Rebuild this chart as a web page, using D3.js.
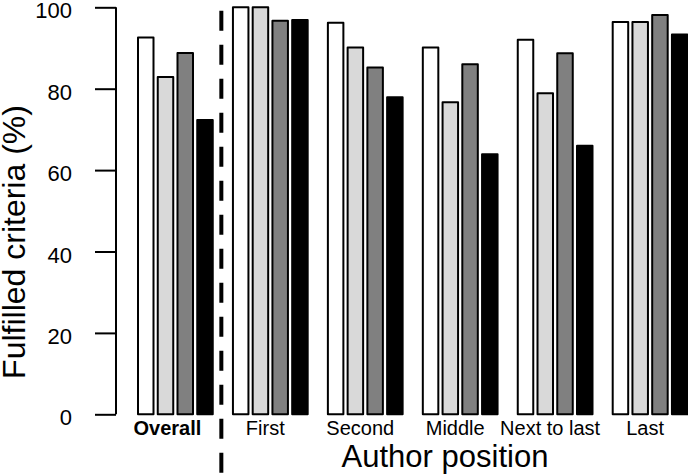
<!DOCTYPE html>
<html>
<head>
<meta charset="utf-8">
<script src="https://cdn.jsdelivr.net/npm/d3@7"></script>
<style>
  html, body { margin: 0; padding: 0; background: #fff; }
  svg { display: block; }
  text { font-family: "Liberation Sans", Arial, sans-serif; fill: #000; }
</style>
</head>
<body>
<svg id="chart" width="688" height="475"></svg>
<script>
// ---- data ----
const categories = ["Overall", "First", "Second", "Middle", "Next to last", "Last"];
const seriesNames = ["A", "B", "C", "D"];
const seriesA = [92.6, 100, 96.2, 90.1, 92.0, 96.4];
const seriesB = [82.9, 100, 90.1, 76.7, 78.9, 96.4];
const seriesC = [88.8, 96.7, 85.2, 86.0, 88.7, 98.1];
const seriesD = [72.3, 96.9, 77.9, 63.9, 66.0, 93.3];
const yTicks = [0, 20, 40, 60, 80, 100];
const xTitle = "Author position";
const yTitle = "Fulfilled criteria (%)";

const seriesValues = [seriesA, seriesB, seriesC, seriesD];
const fills = ["#ffffff", "#d9d9d9", "#808080", "#000000"];

const svg = d3.select("#chart");

// ---- scales ----
const y = d3.scaleLinear().domain([0, 100]).range([414.3, 7.3]);

const groupStep = 94.94;
const innerPad = 0.2127;
const x0 = d3.scaleBand()
  .domain(categories)
  .range([138, 138 + groupStep * (categories.length - innerPad)])
  .paddingInner(innerPad)
  .paddingOuter(0);

const x1 = d3.scaleBand()
  .domain(seriesNames)
  .range([0, x0.bandwidth()])
  .paddingInner(0.215)
  .paddingOuter(0);

// ---- bars ----
const rows = [];
categories.forEach((c, i) => {
  seriesNames.forEach((s, j) => {
    rows.push({ cat: c, ser: s, j: j, v: seriesValues[j][i] });
  });
});

svg.append("g").selectAll("rect")
  .data(rows)
  .join("rect")
  .attr("x", d => x0(d.cat) + x1(d.ser))
  .attr("y", d => y(d.v))
  .attr("width", x1.bandwidth())
  .attr("height", d => y(0) - y(d.v))
  .attr("fill", d => fills[d.j])
  .attr("stroke", "#000")
  .attr("stroke-width", 2)
  .attr("stroke-linejoin", "round");

// ---- y axis ----
const yAxis = d3.axisLeft(y).tickValues(yTicks).tickSize(21).tickPadding(23).tickFormat(d3.format("d"));
const gy = svg.append("g").attr("transform", "translate(116,0)").call(yAxis);
gy.select(".domain").attr("stroke", "#000").attr("stroke-width", 2)
  .attr("d", `M0,${y(0)}V${y(100)}`);
gy.selectAll(".tick line").attr("stroke", "#000").attr("stroke-width", 2);
gy.selectAll(".tick text")
  .attr("font-size", 22)
  .attr("font-family", "'Liberation Sans', Arial, sans-serif")
  .attr("fill", "#000")
  .attr("dy", null)
  .attr("y", 10.5);

// ---- x labels ----
svg.append("g").selectAll("text")
  .data(categories)
  .join("text")
  .attr("x", (d, i) => x0(d) + x0.bandwidth() / 2 - (i === 0 ? 8 : 5))
  .attr("y", 435)
  .attr("text-anchor", "middle")
  .attr("font-size", 20)
  .attr("font-weight", (d, i) => i === 0 ? "bold" : "normal")
  .text(d => d);

// ---- dashed separator ----
const sepX = (x0(categories[0]) + x0.bandwidth() + x0(categories[1])) / 2 - 1.5;
svg.append("line")
  .attr("x1", sepX).attr("x2", sepX)
  .attr("y1", 10.7).attr("y2", 475)
  .attr("stroke", "#000")
  .attr("stroke-width", 4)
  .attr("stroke-dasharray", "20,14");

// ---- titles ----
svg.append("text")
  .attr("x", 445).attr("y", 467)
  .attr("text-anchor", "middle")
  .attr("font-size", 31)
  .text(xTitle);

svg.append("text")
  .attr("transform", "translate(25,242) rotate(-90)")
  .attr("text-anchor", "middle")
  .attr("font-size", 32)
  .text(yTitle);
</script>
</body>
</html>
